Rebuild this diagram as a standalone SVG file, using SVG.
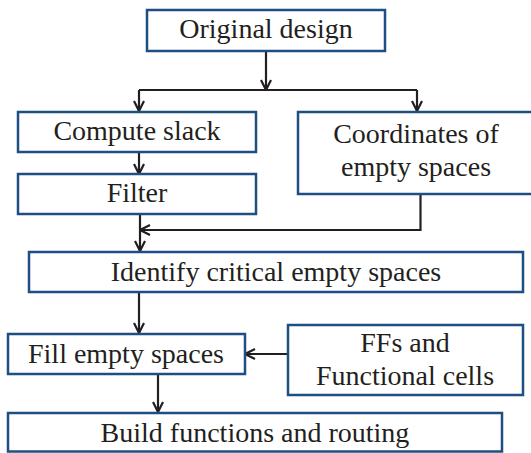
<svg xmlns="http://www.w3.org/2000/svg" width="531" height="453" viewBox="0 0 531 453">
<style>
.box{fill:#fff;stroke:#1f4e85;stroke-width:2.5}
.t{font-family:'Liberation Serif','Times New Roman',Times,serif;font-size:28px;fill:#231f20;text-anchor:middle}
.c{fill:none;stroke:#231f20;stroke-width:2.2}
</style>
<defs>
<marker id="ah" viewBox="0 0 12 12" refX="11" refY="6" markerWidth="12" markerHeight="12" markerUnits="userSpaceOnUse" orient="auto">
<path d="M1,1 L11,6 L1,11" fill="none" stroke="#231f20" stroke-width="2.2"/>
</marker>
</defs>
<rect width="531" height="453" fill="#fff"/>
<g id="connectors">
<path class="c" d="M266,51 V90" marker-end="url(#ah)"/>
<path class="c" d="M139,90 H417"/>
<path class="c" d="M139,90 V111" marker-end="url(#ah)"/>
<path class="c" d="M417,90 V111" marker-end="url(#ah)"/>
<path class="c" d="M139,152 V174" marker-end="url(#ah)"/>
<path class="c" d="M420.5,194 V230 H140" marker-end="url(#ah)"/>
<path class="c" d="M140,214 V251" marker-end="url(#ah)"/>
<path class="c" d="M139,292 V333" marker-end="url(#ah)"/>
<path class="c" d="M287,354 H245" marker-end="url(#ah)"/>
<path class="c" d="M158,374 V412" marker-end="url(#ah)"/>
</g>
<g id="original"><rect class="box" x="147" y="10" width="238" height="41"/><text class="t" x="266" y="38">Original design</text></g>
<g id="compute"><rect class="box" x="18" y="112" width="238" height="40"/><text class="t" x="137" y="140">Compute slack</text></g>
<g id="filter"><rect class="box" x="18" y="174" width="238" height="40"/><text class="t" x="137" y="202">Filter</text></g>
<g id="coords"><rect class="box" x="298" y="112" width="240" height="82"/><text class="t" x="416" y="143">Coordinates of</text><text class="t" x="416" y="176">empty spaces</text></g>
<g id="identify"><rect class="box" x="29" y="252" width="494" height="40"/><text class="t" x="276" y="281">Identify critical empty spaces</text></g>
<g id="fill"><rect class="box" x="8" y="334" width="237" height="40"/><text class="t" x="126" y="363">Fill empty spaces</text></g>
<g id="ffs"><rect class="box" x="288" y="325" width="235" height="70"/><text class="t" x="405" y="352">FFs and</text><text class="t" x="405" y="385">Functional cells</text></g>
<g id="build"><rect class="box" x="8" y="413" width="494" height="38.5"/><text class="t" x="255" y="442">Build functions and routing</text></g>
</svg>
